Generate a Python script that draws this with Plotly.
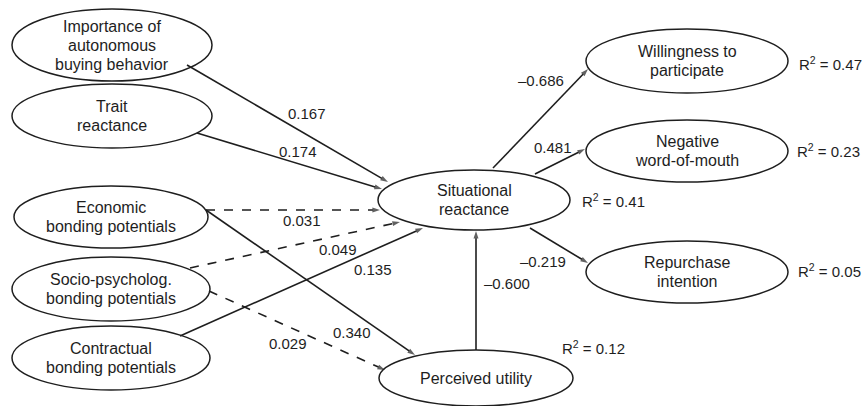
import plotly.graph_objects as go

# ---- data ----
node_ids = ["imp", "trait", "econ", "socio", "contr", "sit", "util", "will", "neg", "rep"]
node_labels = ["Importance of<br>autonomous<br>buying behavior", "Trait<br>reactance",
               "Economic<br>bonding potentials", "Socio-psycholog.<br>bonding potentials",
               "Contractual<br>bonding potentials", "Situational<br>reactance",
               "Perceived utility", "Willingness to<br>participate",
               "Negative<br>word-of-mouth", "Repurchase<br>intention"]
r2_nodes = ["sit", "util", "will", "neg", "rep"]
r2_values = ["0.41", "0.12", "0.47", "0.23", "0.05"]
edge_from = ["imp", "trait", "econ", "socio", "contr", "econ", "socio", "util", "sit", "sit", "sit"]
edge_to = ["sit", "sit", "sit", "sit", "sit", "util", "util", "sit", "will", "neg", "rep"]
edge_coef = ["0.167", "0.174", "0.031", "0.049", "0.135", "0.340", "0.029", "\u20130.600",
             "\u20130.686", "0.481", "\u20130.219"]
edge_significant = [True, True, False, False, True, True, False, True, True, True, True]

# ---- layout geometry (pixel space) ----
node_geom = {  # cx, cy, rx, ry
    "imp": (112, 45, 100, 36), "trait": (112, 116, 100, 32), "econ": (111, 217, 97, 31),
    "socio": (111, 289, 99, 32), "contr": (111, 358, 99, 32), "sit": (474, 200, 96, 30),
    "util": (476, 378, 97, 28), "will": (687, 61, 101, 32), "neg": (687, 151, 101, 31),
    "rep": (687, 272, 101, 31),
}
edge_pts = [((187, 65), (388, 182)), ((197, 133), (382, 189)), ((206, 210), (380, 210)),
            ((190, 268), (400, 222)), ((180, 336), (423, 228)), ((206, 210), (415, 355)),
            ((209, 291), (385, 370)), ((476, 350), (476, 231)), ((493, 168), (588, 69)),
            ((535, 174), (585, 149)), ((530, 228), (588, 263))]
edge_label_pos = [(307, 113), (298, 151), (302, 220), (338, 249), (373, 269), (352, 332),
                  (288, 343), (507, 283), (541, 80), (553, 147), (543, 261)]
r2_pos = {"sit": (613, 200), "util": (593, 347), "will": (830, 63), "neg": (828, 150),
          "rep": (829, 270)}

INK = "#1e1e1e"
FONT = "Liberation Sans, Arial, Helvetica, sans-serif"

fig = go.Figure()
shapes = []
annotations = []

for nid, label in zip(node_ids, node_labels):
    cx, cy, rx, ry = node_geom[nid]
    shapes.append(dict(type="circle", xref="x", yref="y", x0=cx - rx, x1=cx + rx,
                       y0=cy - ry, y1=cy + ry, line=dict(color=INK, width=1.5),
                       fillcolor="rgba(0,0,0,0)", layer="above"))
    lines = label.split("<br>")
    n = len(lines)
    for i, ln in enumerate(lines):
        y = cy + (i - (n - 1) / 2) * 19
        annotations.append(dict(x=cx, y=y, xref="x", yref="y", text=ln, showarrow=False,
                                font=dict(family=FONT, size=16, color=INK),
                                xanchor="center", yanchor="middle"))

for f, t, c, sig, (p0, p1), lp in zip(edge_from, edge_to, edge_coef, edge_significant,
                                       edge_pts, edge_label_pos):
    fig.add_trace(go.Scatter(
        x=[p0[0], p1[0]], y=[p0[1], p1[1]], mode="lines+markers",
        line=dict(color=INK, width=1.6, dash="solid" if sig else "dash"),
        marker=dict(symbol=["circle", "arrow"], size=[0, 8], angleref="previous",
                    color=INK, line=dict(width=0)),
        hoverinfo="skip", name=f + "->" + t))
    annotations.append(dict(x=lp[0], y=lp[1], xref="x", yref="y", text=c, showarrow=False,
                            font=dict(family=FONT, size=15, color=INK),
                            xanchor="center", yanchor="middle"))

for nid, v in zip(r2_nodes, r2_values):
    x, y = r2_pos[nid]
    annotations.append(dict(x=x, y=y, xref="x", yref="y", text="R<sup>2</sup> = " + v,
                            showarrow=False, font=dict(family=FONT, size=15, color=INK),
                            xanchor="center", yanchor="middle"))

fig.update_layout(
    width=864, height=406, margin=dict(l=0, r=0, t=0, b=0),
    paper_bgcolor="white", plot_bgcolor="white",
    xaxis=dict(range=[0, 864], visible=False, fixedrange=True),
    yaxis=dict(range=[406, 0], visible=False, fixedrange=True),
    shapes=shapes, annotations=annotations, showlegend=False,
)
fig.write_html("out.html", config={"displayModeBar": False},
               post_script="document.body.style.margin='0';document.body.style.overflow='hidden';")
